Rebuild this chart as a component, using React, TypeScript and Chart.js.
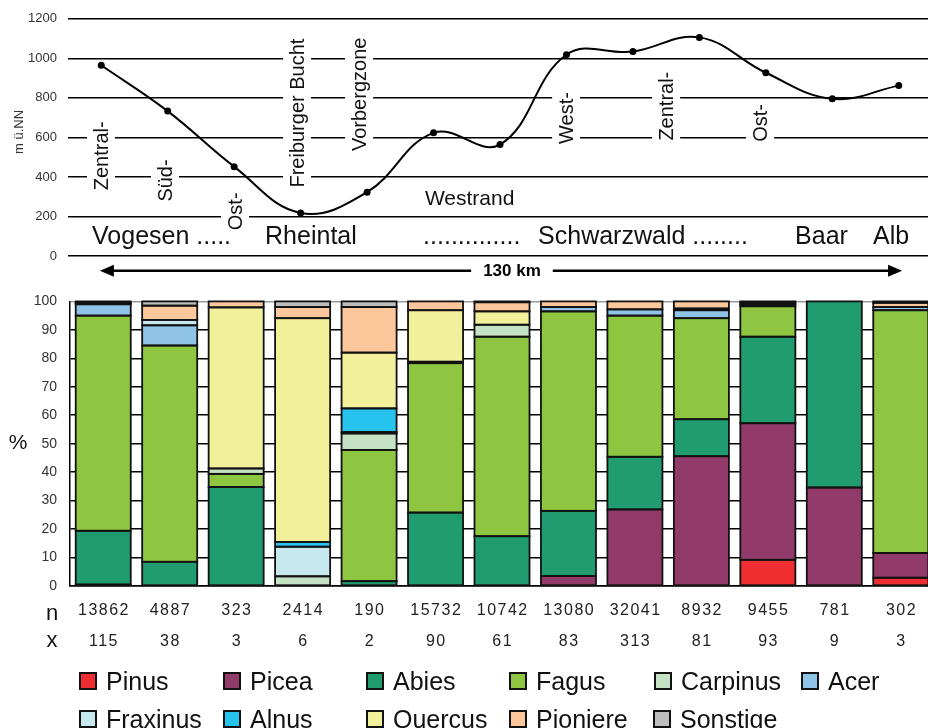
import React, { useEffect, useRef } from 'react';
import { Chart, registerables } from 'chart.js';

Chart.register(...registerables);

const FONT = '"Liberation Sans", Arial, Helvetica, sans-serif';
Chart.defaults.font.family = FONT;

// ---- data ----
const sites = ['1', '2', '3', '4', '5', '6', '7', '8', '9', '10', '11', '12', '13'];
const elevation = [965, 733, 452, 218, 323, 623, 564, 1018, 1034, 1106, 927, 795, 862];
const nValues = [13862, 4887, 323, 2414, 190, 15732, 10742, 13080, 32041, 8932, 9455, 781, 302];
const xValues = [115, 38, 3, 6, 2, 90, 61, 83, 313, 81, 93, 9, 3];

const pinus = [0, 0, 0, 0, 0, 0, 0, 0, 0, 0, 9.2, 0, 2.9];
const picea = [0.5, 0, 0, 0, 0, 0, 0, 3.5, 26.9, 45.6, 48.0, 34.6, 8.7];
const abies = [18.9, 8.5, 34.8, 0, 1.7, 25.8, 17.5, 22.9, 18.5, 13.0, 30.4, 65.4, 0];
const fagus = [75.6, 76.0, 4.6, 0, 46.1, 52.5, 70.1, 70.1, 49.6, 35.5, 10.7, 0, 85.3];
const carpinus = [0, 0, 1.9, 3.4, 5.8, 0, 4.2, 0, 0, 0, 0, 0, 0];
const acer = [4.0, 7.1, 0, 0, 0, 0, 0, 1.5, 2.2, 2.8, 0, 0, 1.1];
const fraxinus = [0, 1.9, 0, 10.4, 0.5, 0.5, 0, 0, 0, 0, 0, 0, 0];
const alnus = [0, 0, 0, 1.7, 8.3, 0, 0, 0, 0, 0, 0, 0, 0];
const quercus = [0, 0, 56.6, 78.6, 19.6, 18.1, 4.7, 0, 0, 0.6, 0.6, 0, 0];
const pioniere = [0.5, 5.0, 2.1, 3.9, 16.0, 3.1, 3.2, 2.0, 2.8, 2.5, 0.6, 0, 1.5];
const sonstige = [0.5, 1.5, 0, 2.0, 2.0, 0, 0.3, 0, 0, 0, 0.5, 0, 0.5];

const species = [
  { name: 'Pinus', values: pinus, color: '#ee2e31' },
  { name: 'Picea', values: picea, color: '#923b6b' },
  { name: 'Abies', values: abies, color: '#219c70' },
  { name: 'Fagus', values: fagus, color: '#8ec641' },
  { name: 'Carpinus', values: carpinus, color: '#c6e2c4' },
  { name: 'Acer', values: acer, color: '#90c3e8' },
  { name: 'Fraxinus', values: fraxinus, color: '#c7e8ee' },
  { name: 'Alnus', values: alnus, color: '#27c3ef' },
  { name: 'Quercus', values: quercus, color: '#f3f09c' },
  { name: 'Pioniere', values: pioniere, color: '#fcc79b' },
  { name: 'Sonstige', values: sonstige, color: '#bebebe' },
];

// ---- annotation layout (positions in data units of the profile chart) ----
const rotatedLabels = [
  { text: 'Zentral-', at: 0.102, m: 507 },
  { text: 'Süd-', at: 1.065, m: 382 },
  { text: 'Ost-', at: 2.119, m: 226 },
  { text: 'Freiburger Bucht', at: 3.052, m: 723 },
  { text: 'Vorbergzone', at: 3.985, m: 818 },
  { text: 'West-', at: 7.1, m: 698 },
  { text: 'Zentral-', at: 8.605, m: 758 },
  { text: 'Ost-', at: 10.019, m: 673 },
];
const flatLabels = [
  { text: 'Westrand', at: 4.87, m: 256, size: 21 },
  { text: 'Vogesen .....', at: -0.138, m: 60, size: 25 },
  { text: 'Rheintal', at: 2.465, m: 60, size: 25 },
  { text: '..............', at: 4.843, m: 60, size: 25 },
  { text: 'Schwarzwald ........', at: 6.573, m: 60, size: 25 },
  { text: 'Baar', at: 10.44, m: 60, size: 25 },
  { text: 'Alb', at: 11.614, m: 60, size: 25 },
];
const legendCols = [
  [79, 223, 366, 509, 654, 801],
  [79, 223, 366, 509, 653],
];

const topExtras = {
  id: 'topExtras',
  beforeDatasetsDraw(chart: any) {
    const { ctx, scales } = chart;
    const x = scales.x;
    const y = scales.y;
    ctx.save();
    ctx.font = `20px ${FONT}`;
    ctx.textAlign = 'center';
    ctx.textBaseline = 'alphabetic';
    rotatedLabels.forEach((l) => {
      const px = x.getPixelForValue(l.at);
      const py = y.getPixelForValue(l.m);
      ctx.save();
      ctx.translate(px, py);
      ctx.rotate(-Math.PI / 2);
      const w = ctx.measureText(l.text).width;
      ctx.fillStyle = '#fff';
      ctx.fillRect(-w / 2 - 4, -21, w + 8, 28);
      ctx.fillStyle = '#111';
      ctx.fillText(l.text, 0, 0);
      ctx.restore();
    });
    ctx.textAlign = 'left';
    flatLabels.forEach((l) => {
      ctx.font = `${l.size}px ${FONT}`;
      ctx.fillStyle = '#111';
      ctx.fillText(l.text, x.getPixelForValue(l.at), y.getPixelForValue(l.m));
    });
    ctx.restore();
  },
  afterDraw(chart: any) {
    const { ctx, chartArea, scales } = chart;
    const x = scales.x;
    ctx.save();
    // axis title
    ctx.font = `13px ${FONT}`;
    ctx.fillStyle = '#333';
    ctx.textAlign = 'center';
    ctx.textBaseline = 'middle';
    ctx.save();
    ctx.translate(chartArea.left - 49, 132);
    ctx.rotate(-Math.PI / 2);
    ctx.fillText('m ü.NN', 0, 0);
    ctx.restore();
    // distance arrow
    const ay = chartArea.bottom + 14.7;
    const x0 = x.getPixelForValue(-0.02);
    const x1 = x.getPixelForValue(12.05);
    ctx.strokeStyle = '#000';
    ctx.fillStyle = '#000';
    ctx.lineWidth = 2.5;
    ctx.beginPath();
    ctx.moveTo(x0 + 10, ay);
    ctx.lineTo(x1 - 10, ay);
    ctx.stroke();
    ctx.beginPath();
    ctx.moveTo(x0, ay);
    ctx.lineTo(x0 + 14, ay - 6);
    ctx.lineTo(x0 + 14, ay + 6);
    ctx.closePath();
    ctx.fill();
    ctx.beginPath();
    ctx.moveTo(x1, ay);
    ctx.lineTo(x1 - 14, ay - 6);
    ctx.lineTo(x1 - 14, ay + 6);
    ctx.closePath();
    ctx.fill();
    const cx = x.getPixelForValue(6.18);
    ctx.font = `bold 17px ${FONT}`;
    const tw = ctx.measureText('130 km').width;
    ctx.fillStyle = '#fff';
    ctx.fillRect(cx - tw / 2 - 12, ay - 8, tw + 24, 16);
    ctx.fillStyle = '#000';
    ctx.fillText('130 km', cx, ay + 1);
    ctx.restore();
  },
};

const bottomExtras = {
  id: 'bottomExtras',
  afterDatasetsDraw(chart: any) {
    // outline every stacked segment, using the geometry the library computed
    const { ctx } = chart;
    ctx.save();
    ctx.strokeStyle = '#111';
    ctx.lineWidth = 1.8;
    chart.data.datasets.forEach((d: any, di: number) => {
      const meta = chart.getDatasetMeta(di);
      meta.data.forEach((bar: any, j: number) => {
        if (!d.data[j]) return;
        const p = bar.getProps(['x', 'y', 'base', 'width'], true);
        const top = Math.min(p.y, p.base);
        const h = Math.abs(p.base - p.y);
        ctx.strokeRect(p.x - p.width / 2, top, p.width, h);
      });
    });
    ctx.restore();
  },
  afterDraw(chart: any) {
    const { ctx, chartArea, scales } = chart;
    const x = scales.x;
    ctx.save();
    ctx.fillStyle = '#111';
    ctx.textAlign = 'center';
    ctx.textBaseline = 'middle';
    ctx.font = `21px ${FONT}`;
    ctx.fillText('%', chartArea.left - 52, (chartArea.top + chartArea.bottom) / 2);
    ctx.font = `22px ${FONT}`;
    ctx.fillText('n', chartArea.left - 18, chartArea.bottom + 28);
    ctx.fillText('x', chartArea.left - 18, chartArea.bottom + 55);
    ctx.font = `16px ${FONT}`;
    ctx.fillStyle = '#222';
    (ctx as any).letterSpacing = '1.5px';
    nValues.forEach((v, i) => ctx.fillText(String(v), x.getPixelForValue(i) + 0.75, chartArea.bottom + 25));
    xValues.forEach((v, i) => ctx.fillText(String(v), x.getPixelForValue(i) + 0.75, chartArea.bottom + 56));
    (ctx as any).letterSpacing = '0px';
    // legend
    const ds = chart.data.datasets;
    ctx.font = `25px ${FONT}`;
    ctx.textAlign = 'left';
    ctx.textBaseline = 'alphabetic';
    let k = 0;
    legendCols.forEach((row, r) => {
      const top = chartArea.bottom + 86 + r * 38;
      row.forEach((left) => {
        const d = ds[k++];
        if (!d) return;
        ctx.fillStyle = d.backgroundColor;
        ctx.fillRect(left + 1, top + 1, 16, 16);
        ctx.strokeStyle = '#111';
        ctx.lineWidth = 2;
        ctx.strokeRect(left + 1, top + 1, 16, 16);
        ctx.fillStyle = '#111';
        ctx.fillText(d.label, left + 27, top + 17.5);
      });
    });
    ctx.restore();
  },
};

export default function App() {
  const topRef = useRef<HTMLCanvasElement>(null);
  const botRef = useRef<HTMLCanvasElement>(null);

  useEffect(() => {
    const top = new Chart(topRef.current as HTMLCanvasElement, {
      type: 'line',
      data: {
        labels: sites,
        datasets: [
          {
            data: elevation,
            borderColor: '#000',
            borderWidth: 2,
            tension: 0.4,
            pointRadius: 3.5,
            pointBackgroundColor: '#000',
            pointBorderWidth: 0,
            fill: false,
          },
        ],
      },
      options: {
        responsive: false,
        animation: false,
        layout: { padding: { top: 17, bottom: 29, right: 8, left: 0 } },
        plugins: { legend: { display: false }, tooltip: { enabled: false } },
        scales: {
          x: { type: 'category', offset: true, display: false },
          y: {
            min: 0,
            max: 1200,
            ticks: { stepSize: 200, padding: 11, color: '#333', font: { size: 13 }, callback: (v: any) => String(v) },
            grid: { color: '#000', lineWidth: 1.5, drawTicks: false },
            border: { display: false },
            afterFit: (s: any) => {
              s.width = 68;
            },
          },
        },
      } as any,
      plugins: [topExtras],
    });

    const bot = new Chart(botRef.current as HTMLCanvasElement, {
      type: 'bar',
      data: {
        labels: sites,
        datasets: species.map((s) => ({
          label: s.name,
          data: s.values,
          backgroundColor: s.color,
          borderWidth: 0,
          inflateAmount: 0,
          categoryPercentage: 1,
          barPercentage: 0.828,
        })),
      },
      options: {
        responsive: false,
        animation: false,
        layout: { padding: { top: 9, bottom: 140, right: 6, left: 0 } },
        plugins: { legend: { display: false }, tooltip: { enabled: false } },
        scales: {
          x: {
            stacked: true,
            offset: true,
            grid: { display: true, drawOnChartArea: false, drawTicks: false },
            border: { display: true, color: '#000', width: 1.5 },
            ticks: { display: false },
            afterFit: (s: any) => {
              s.height = 2;
            },
          },
          y: {
            stacked: true,
            min: 0,
            max: 100,
            ticks: { stepSize: 10, padding: 13, color: '#333', font: { size: 14 }, callback: (v: any) => String(v) },
            grid: {
              color: (c: any) => (c.tick && c.tick.value === 100 ? '#9a9a9a' : '#000'),
              lineWidth: 1.5,
              drawTicks: false,
            },
            border: { display: true, color: '#000', width: 1.5 },
            afterFit: (s: any) => {
              s.width = 70;
            },
          },
        },
      } as any,
      plugins: [bottomExtras],
    });

    return () => {
      top.destroy();
      bot.destroy();
    };
  }, []);

  return (
    <div
      style={{
        position: 'fixed',
        left: 0,
        top: 0,
        width: 928,
        height: 728,
        overflow: 'hidden',
        background: '#fff',
      }}
    >
      <canvas ref={topRef} width={940} height={285} style={{ position: 'absolute', left: 0, top: 0 }} />
      <canvas ref={botRef} width={940} height={448} style={{ position: 'absolute', left: 0, top: 280 }} />
    </div>
  );
}
